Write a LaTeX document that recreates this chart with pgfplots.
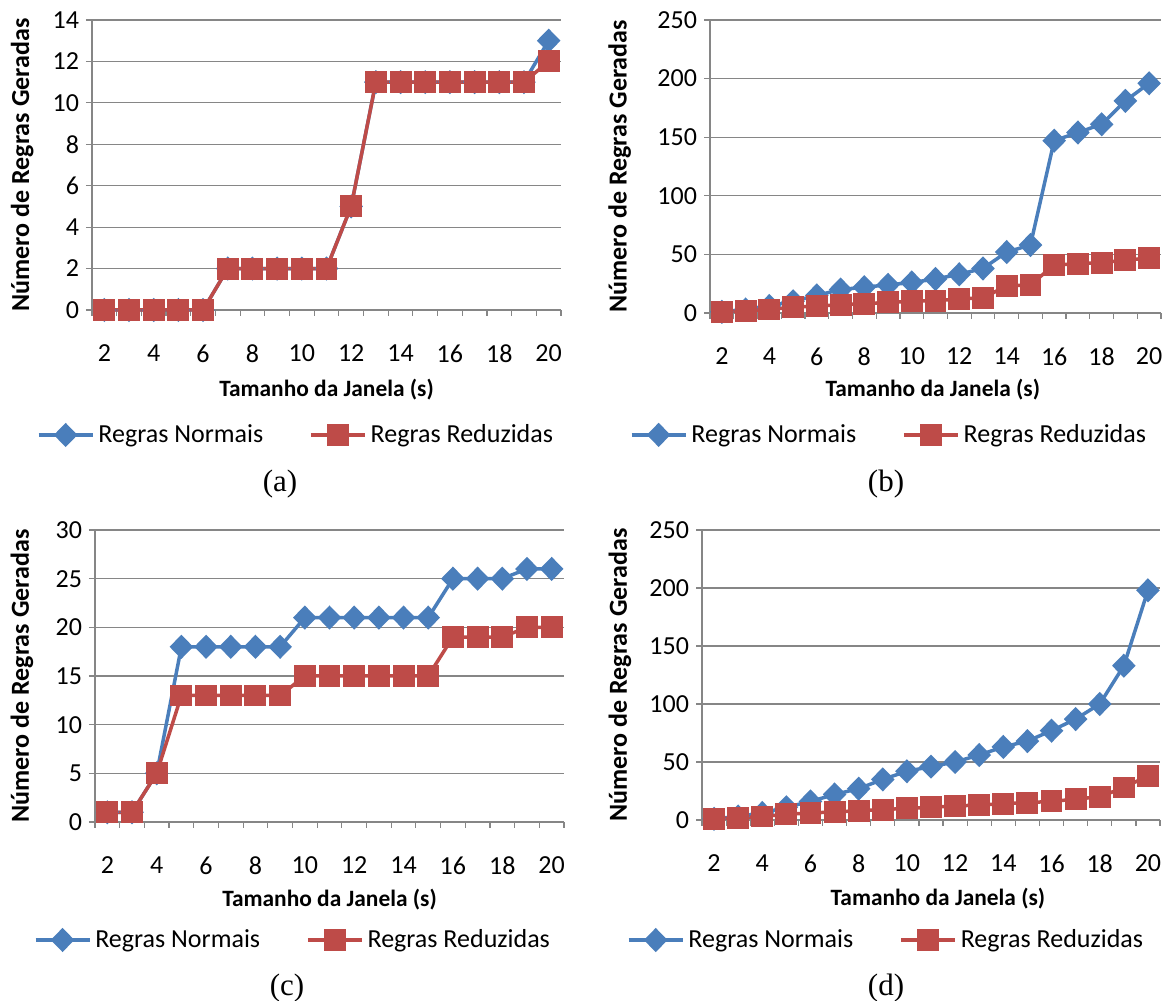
\documentclass[border=0pt]{standalone}
\usepackage{fontspec}
\setmainfont{Carlito}
\newfontfamily\capfont{Liberation Serif}
\usepackage{pgfplots}
\pgfplotsset{compat=1.18}
\definecolor{cblue}{RGB}{74,126,187}
\definecolor{cred}{RGB}{190,75,72}
\definecolor{gridgray}{RGB}{134,134,134}

\pgfplotsset{
 exc/.style={
  scale only axis,
  xmin=1.5, xmax=20.5, ymin=0,
  xtick={2,4,...,20},
  minor xtick={1.5,2.5,...,20.5},
  major x tick style={draw=none},
  minor x tick style={draw=gridgray, line width=0.6pt},
  minor tick length=3pt,
  major tick length=3pt,
  tick align=outside,
  y tick style={draw=gridgray, line width=0.6pt},
  ymajorgrids,
  grid style={draw=gridgray, line width=0.6pt},
  axis x line*=bottom, axis y line*=left,
  axis line style={draw=gridgray, line width=0.6pt},
  /pgf/number format/assume math mode=true,
  tick label style={font=\fontsize{13}{15}\selectfont, text=black},
  xticklabel style={yshift=-11pt},
  xlabel style={font=\bfseries\fontsize{11.7}{14}\selectfont},
  ylabel style={font=\bfseries\fontsize{13}{15}\selectfont},
  xlabel={Tamanho da Janela (s)},
  ylabel={Número de Regras Geradas},
  legend style={draw=none, fill=none, legend columns=2, font=\fontsize{13}{15}\selectfont, anchor=center, /tikz/every even column/.append style={column sep=21pt}, inner sep=0pt},
  legend cell align=left,
  legend image code/.code={\draw[mark repeat=2,mark phase=2,#1] plot coordinates {(0pt,0pt) (13.5pt,0pt) (27pt,0pt)};},
  clip=false,
 },
 ser1/.style={color=cblue, line width=1.75pt, mark=diamond*, mark size=4.8pt, mark options={xscale=1.3, solid}},
 ser2/.style={color=cred, line width=1.75pt, mark=square*, mark size=4.6pt, mark options={solid}},
}

\begin{document}
\begin{tikzpicture}
\useasboundingbox (0,0) rectangle (584pt,500.5pt);

% (a)
\begin{axis}[exc, at={(46pt,345.5pt)}, anchor=south west, width=234.5pt, height=145pt,
  ymax=14, ytick={0,2,...,14},
  xlabel style={at={(axis description cs:0.5,0)}, anchor=center, yshift=-40pt},
  ylabel style={at={(axis description cs:-0.149,0.5)}, anchor=center},
  legend style={at={(axis description cs:0.437,-0.431)}}]
\addplot[ser1] coordinates {(2,0)(3,0)(4,0)(5,0)(6,0)(7,2)(8,2)(9,2)(10,2)(11,2)(12,5)(13,11)(14,11)(15,11)(16,11)(17,11)(18,11)(19,11)(20,13)};
\addplot[ser2] coordinates {(2,0)(3,0)(4,0)(5,0)(6,0)(7,2)(8,2)(9,2)(10,2)(11,2)(12,5)(13,11)(14,11)(15,11)(16,11)(17,11)(18,11)(19,11)(20,12)};
\legend{Regras Normais, Regras Reduzidas}
\end{axis}

% (b)
\begin{axis}[exc, at={(355pt,344pt)}, anchor=south west, width=225.5pt, height=146.5pt,
  ymax=250, ytick={0,50,...,250},
  xlabel style={at={(axis description cs:0.494,0)}, anchor=center, yshift=-38.5pt},
  ylabel style={at={(axis description cs:-0.2,0.5)}, anchor=center},
  legend style={at={(axis description cs:0.399,-0.416)}}]
\addplot[ser1] coordinates {(2,1)(3,3)(4,6)(5,10)(6,15)(7,20)(8,22)(9,24)(10,26)(11,29)(12,33)(13,38)(14,52)(15,58)(16,147)(17,154)(18,161)(19,181)(20,196)};
\addplot[ser2] coordinates {(2,1)(3,2)(4,3)(5,5)(6,6)(7,7)(8,8)(9,9)(10,10)(11,10.5)(12,12)(13,13)(14,23)(15,24)(16,41)(17,42)(18,43)(19,45)(20,47)};
\legend{Regras Normais, Regras Reduzidas}
\end{axis}

% (c)
\begin{axis}[exc, at={(47.5pt,89.5pt)}, anchor=south west, width=234.5pt, height=146pt,
  ymax=30, ytick={0,5,...,30},
  xlabel style={at={(axis description cs:0.5,0)}, anchor=center, yshift=-39pt},
  ylabel style={at={(axis description cs:-0.156,0.5)}, anchor=center},
  legend style={at={(axis description cs:0.424,-0.404)}}]
\addplot[ser1] coordinates {(2,1)(3,1)(4,5)(5,18)(6,18)(7,18)(8,18)(9,18)(10,21)(11,21)(12,21)(13,21)(14,21)(15,21)(16,25)(17,25)(18,25)(19,26)(20,26)};
\addplot[ser2] coordinates {(2,1)(3,1)(4,5)(5,13)(6,13)(7,13)(8,13)(9,13)(10,15)(11,15)(12,15)(13,15)(14,15)(15,15)(16,19)(17,19)(18,19)(19,20)(20,20)};
\legend{Regras Normais, Regras Reduzidas}
\end{axis}

% (d)
\begin{axis}[exc, at={(351pt,90.5pt)}, anchor=south west, width=229pt, height=145pt,
  ymax=250, ytick={0,50,...,250},
  xlabel style={at={(axis description cs:0.515,0)}, anchor=center, yshift=-39.5pt},
  ylabel style={at={(axis description cs:-0.179,0.5)}, anchor=center},
  legend style={at={(axis description cs:0.404,-0.414)}}]
\addplot[ser1] coordinates {(2,1)(3,3)(4,6)(5,11)(6,16)(7,22)(8,27)(9,35)(10,42)(11,46)(12,50)(13,56)(14,63)(15,68)(16,77)(17,87)(18,100)(19,133)(20,198)};
\addplot[ser2] coordinates {(2,1)(3,2)(4,3)(5,5)(6,6)(7,7)(8,8)(9,9)(10,10)(11,11)(12,12)(13,13)(14,14)(15,15)(16,16)(17,18)(18,20)(19,28)(20,38)};
\legend{Regras Normais, Regras Reduzidas}
\end{axis}

\node[font=\capfont\fontsize{15.5}{18}\selectfont] at (140pt,258.5pt) {(a)};
\node[font=\capfont\fontsize{15.5}{18}\selectfont] at (443pt,258.5pt) {(b)};
\node[font=\capfont\fontsize{15.5}{18}\selectfont] at (143.5pt,6.5pt) {(c)};
\node[font=\capfont\fontsize{15.5}{18}\selectfont] at (443pt,6.5pt) {(d)};
\end{tikzpicture}
\end{document}
